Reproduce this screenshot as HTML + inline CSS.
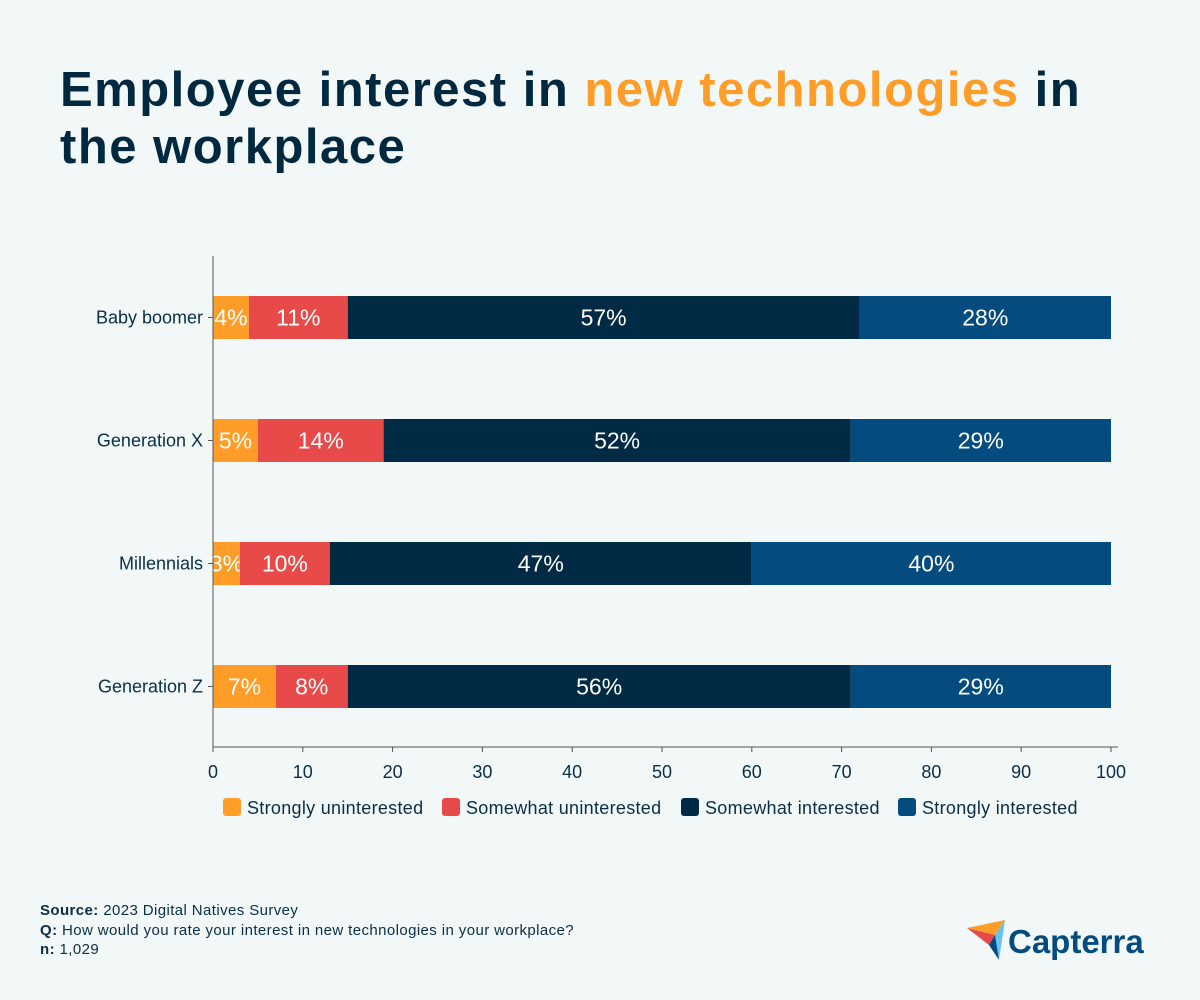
<!DOCTYPE html>
<html><head><meta charset="utf-8"><style>
html,body{margin:0;padding:0;background:#F2F7F7;}
body{width:1200px;height:1000px;position:relative;overflow:hidden;font-family:"Liberation Sans",sans-serif;color:#0A2E47;}
h1{position:absolute;left:60px;top:62px;margin:0;font-size:49px;line-height:57px;font-weight:bold;color:#00293F;letter-spacing:1.5px;width:1130px;}
h1 span{color:#FF9D28;}
.foot{position:absolute;left:40px;top:901px;font-size:15px;line-height:19.5px;letter-spacing:0.4px;color:#0A2E47;}
</style></head><body>
<h1>Employee interest in <span>new technologies</span> in<br>the workplace</h1>
<svg id="chart" width="1200" height="1000" style="position:absolute;left:0;top:0"></svg>
<div class="foot"><b>Source:</b> 2023 Digital Natives Survey<br><b>Q:</b> How would you rate your interest in new technologies in your workplace?<br><b>n:</b> 1,029</div>
<svg width="200" height="50" style="position:absolute;left:965px;top:915px">
<polygon points="2,13 40,5 30,20" fill="#FF9D28"/>
<polygon points="2,13 30,20 24,30" fill="#E84A4A"/>
<polygon points="40,5 30,20 34,45" fill="#6AC2EE"/>
<polygon points="30,20 24,30 34,45" fill="#044C7F"/>
<text x="43" y="38" font-family="Liberation Sans, sans-serif" font-size="33" font-weight="bold" fill="#044C7F">Capterra</text>
</svg>
<script>
const categories=["Baby boomer","Generation X","Millennials","Generation Z"];
const seriesNames=["Strongly uninterested","Somewhat uninterested","Somewhat interested","Strongly interested"];
const strongUn=[4,5,3,7];
const someUn=[11,14,10,8];
const someIn=[57,52,47,56];
const strongIn=[28,29,40,29];
const ticks=[0,10,20,30,40,50,60,70,80,90,100];
const colors=["#FF9D28","#E84A4A","#012B44","#044C7F"];
const NS="http://www.w3.org/2000/svg";
const svg=document.getElementById('chart');
const x0=213,x1=1111,yTop=256,yBot=747;
const xs=v=>x0+(x1-x0)*v/100;
const ys=i=>317.5+i*123;
const bh=43;
function mk(t,a,p){const e=document.createElementNS(NS,t);for(const k in a)e.setAttribute(k,a[k]);(p||svg).appendChild(e);return e;}
const series=[strongUn,someUn,someIn,strongIn];
categories.forEach((c,i)=>{
  let acc=0;
  series.forEach((s,j)=>{
    const v=s[i];
    const r=mk('rect',{x:xs(acc),y:ys(i)-bh/2,width:xs(acc+v)-xs(acc),height:bh,fill:colors[j]});
    
    
    const t=mk('text',{x:(xs(acc)+xs(acc+v))/2,y:ys(i)+8,'text-anchor':'middle','font-size':23,fill:'#fff'});
    t.textContent=v+'%';
    
    
    acc+=v;
  });
  const l=mk('text',{x:203,y:ys(i)+6,'text-anchor':'end','font-size':18,fill:'#0A2E47'});
  l.textContent=c;
  
  
  mk('line',{x1:208,x2:213,y1:ys(i),y2:ys(i),stroke:'#555'});
});
mk('line',{x1:x0,x2:x0,y1:yTop,y2:yBot,stroke:'#555'});
mk('line',{x1:x0,x2:1118,y1:yBot,y2:yBot,stroke:'#555'});
ticks.forEach(t=>{
  mk('line',{x1:xs(t),x2:xs(t),y1:yBot,y2:yBot+5,stroke:'#555'});
  const e=mk('text',{x:xs(t),y:778,'text-anchor':'middle','font-size':18,fill:'#0A2E47'});
  e.textContent=t;
  
  
});
const lx=[223,442,681,898];
seriesNames.forEach((n,j)=>{
  const r=mk('rect',{x:lx[j],y:798,width:18,height:18,rx:3,fill:colors[j]});
  
  
  const t=mk('text',{x:lx[j]+24,y:814,'font-size':18,'letter-spacing':0.3,fill:'#0A2E47'});
  t.textContent=n;
  
  
});
</script>
</body></html>
